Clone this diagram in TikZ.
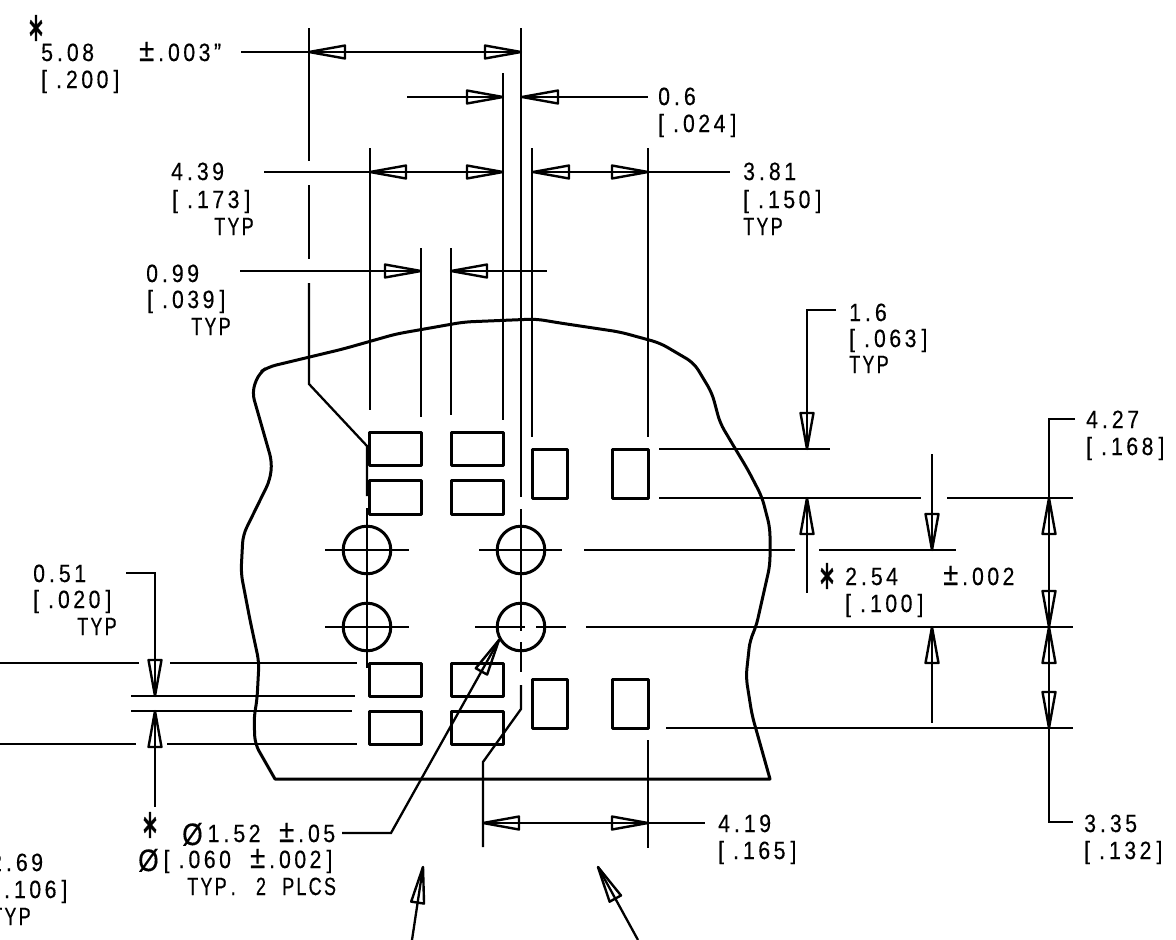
\documentclass[tikz,border=0pt]{standalone}
\usepackage{fontspec}
\setmainfont[FakeStretch=0.85,LetterSpace=14,FakeBold=0.4]{Liberation Sans}
\newfontfamily\typfont[FakeStretch=0.72,LetterSpace=9,FakeBold=0.4]{Liberation Sans}
\newfontfamily\starfont[FakeBold=1.5]{DejaVu Sans}

\newcommand{\dimhead}[3]{\draw[headline,shift={(#1,#2)},rotate=#3] (0,0) -- (-36,6.5) -- (-36,-6.5) -- cycle;}
\newcommand{\dt}{\kern4pt.\kern4pt}
\newcommand{\lb}{[\kern5pt}
\newcommand{\rb}{\kern5pt]}
\newcommand{\plm}{{\fontsize{32}{32}\selectfont ±}}
\newcommand{\dia}{{\fontsize{31}{31}\selectfont\raisebox{-3pt}{Ø}}\kern5pt}
\newcommand{\tol}{\scalebox{0.62}[1.2]{∗}}

\tikzset{
  thinline/.style={line width=2.3pt},
  headline/.style={line width=2.4pt,line join=round},
  padline/.style={line width=3pt,line join=round},
  boardline/.style={line width=3pt,line join=round},
  dimtext/.style={anchor=base west,inner sep=0pt,font=\fontsize{25}{27}\selectfont},
  typtext/.style={dimtext,font=\fontsize{25}{27}\selectfont\typfont},
  startext/.style={inner sep=0pt,font=\fontsize{34}{34}\selectfont\starfont}
}

\begin{document}
\begin{tikzpicture}[x=1pt,y=-1pt]
        \useasboundingbox (0,0) rectangle (1176,940);

        % board outline
        \draw[boardline,rounded corners=8pt] (268,367) -- (259,373) -- (252,392) -- (262,427) -- (272,462)
        -- (270,480) -- (243,535) -- (241,573) -- (250,620) -- (259,662) -- (257,700)
        -- (254,717) -- (255,744) [sharp corners] -- (275,779) -- (770,779)
        [rounded corners=8pt] -- (752,715) -- (746,677)
        -- (750,640) -- (756,627) -- (770,565) -- (770,528) -- (762,497) -- (748,470)
        -- (736,450) -- (720,423) -- (712,393) -- (694,363) -- (660,343) -- (620,332)
        -- (560,323) -- (536,319) -- (464,322) -- (396,334) -- (343,349) -- cycle;

        % pads
        \draw[padline] (369,432) rectangle (421,465);
        \draw[padline] (451,432) rectangle (503,465);
        \draw[padline] (369,480) rectangle (421,514);
        \draw[padline] (451,480) rectangle (503,514);
        \draw[padline] (369,663) rectangle (421,696);
        \draw[padline] (451,663) rectangle (503,696);
        \draw[padline] (369,711) rectangle (421,744);
        \draw[padline] (451,711) rectangle (503,744);
        \draw[padline] (532,449) rectangle (567,498);
        \draw[padline] (612,449) rectangle (648,498);
        \draw[padline] (532,679) rectangle (567,728);
        \draw[padline] (612,679) rectangle (648,728);

        % holes
        \draw[padline] (367,550) circle(23.8);
        \draw[padline] (367,627) circle(23.8);
        \draw[padline] (521,550) circle(23.8);
        \draw[padline] (521,627) circle(23.8);

        % centre lines
        \draw[thinline] (325,550) -- (409,550);
        \draw[thinline] (325,627) -- (409,627);
        \draw[thinline] (479,550) -- (562,550);
        \draw[thinline] (475,627) -- (525,627);
        \draw[thinline] (536,627) -- (566,627);
        \draw[thinline] (367,508) -- (367,668);
        \draw[thinline] (521,509) -- (521,631);
        \draw[thinline] (521,642) -- (521,672);

        % extension lines, top
        \draw[thinline] (309,28) -- (309,161);
        \draw[thinline] (309,185) -- (309,259);
        \draw[thinline] (309,283) -- (309,384) -- (367,446) -- (367,496);
        \draw[thinline] (521,28) -- (521,497);
        \draw[thinline] (503,73) -- (503,420);
        \draw[thinline] (370,148) -- (370,410);
        \draw[thinline] (532,148) -- (532,437);
        \draw[thinline] (648,148) -- (648,437);
        \draw[thinline] (421,248) -- (421,417);
        \draw[thinline] (451,248) -- (451,415);

        % extension lines, right
        \draw[thinline] (659,449) -- (830,449);
        \draw[thinline] (659,498) -- (921,498);
        \draw[thinline] (947,498) -- (1073,498);
        \draw[thinline] (584,550) -- (795,550);
        \draw[thinline] (819,550) -- (956,550);
        \draw[thinline] (586,627) -- (1073,627);
        \draw[thinline] (666,728) -- (1073,728);

        % extension lines, left
        \draw[thinline] (0,663) -- (139,663);
        \draw[thinline] (170,663) -- (357,663);
        \draw[thinline] (131,696) -- (355,696);
        \draw[thinline] (131,711) -- (352,711);
        \draw[thinline] (0,744) -- (136,744);
        \draw[thinline] (167,744) -- (357,744);

        % extension lines, bottom
        \draw[thinline] (521,685) -- (521,709) -- (483,762) -- (483,847);
        \draw[thinline] (648,740) -- (648,848);

        % dimension 5.08
        \draw[thinline] (241,52) -- (521,52);
        \dimhead{309}{52}{180}
        \dimhead{521}{52}{0}
        \node[startext] (star508) at (36,28) {\tol};
        \node[dimtext] (val508) at (41,61) {5\dt 08};
        \node[dimtext] (tol508) at (139,61) {\plm\dt 003"};
        \node[dimtext] (inch508) at (41,88) {\lb\dt 200\rb};

        % dimension 0.6
        \draw[thinline] (407,97) -- (503,97);
        \draw[thinline] (521,97) -- (648,97);
        \dimhead{503}{97}{0}
        \dimhead{522}{97}{180}
        \node[dimtext] (val06) at (658,105) {0\dt 6};
        \node[dimtext] (inch06) at (658,132) {\lb\dt 024\rb};

        % dimension 4.39
        \draw[thinline] (264,172) -- (503,172);
        \dimhead{370}{172}{180}
        \dimhead{503}{172}{0}
        \node[dimtext] (val439) at (171,180) {4\dt 39};
        \node[dimtext] (inch439) at (172,208) {\lb\dt 173\rb};
        \node[typtext] (typ439) at (214,235) {TYP};

        % dimension 3.81
        \draw[thinline] (532,172) -- (730,172);
        \dimhead{533}{172}{180}
        \dimhead{648}{172}{0}
        \node[dimtext] (val381) at (743,180) {3\dt 81};
        \node[dimtext] (inch381) at (743,208) {\lb\dt 150\rb};
        \node[typtext] (typ381) at (743,235) {TYP};

        % dimension 0.99
        \draw[thinline] (240,271) -- (421,271);
        \draw[thinline] (451,271) -- (547,271);
        \dimhead{421}{271}{0}
        \dimhead{451}{271}{180}
        \node[dimtext] (val099) at (146,282) {0\dt 99};
        \node[dimtext] (inch099) at (147,308) {\lb\dt 039\rb};
        \node[typtext] (typ099) at (191,335) {TYP};

        % dimension 1.6
        \draw[thinline] (836,310) -- (807,310) -- (807,449);
        \draw[thinline] (807,498) -- (807,593);
        \dimhead{807}{449}{270}
        \dimhead{807}{498}{90}
        \node[dimtext] (val16) at (849,321) {1\dt 6};
        \node[dimtext] (inch16) at (849,347) {\lb\dt 063\rb};
        \node[typtext] (typ16) at (849,373) {TYP};

        % dimension 2.54
        \draw[thinline] (932,454) -- (932,550);
        \draw[thinline] (932,627) -- (932,723);
        \dimhead{932}{550}{270}
        \dimhead{932}{627}{90}
        \node[startext] (star254) at (827,576) {\tol};
        \node[dimtext] (val254) at (845,585) {2\dt 54};
        \node[dimtext] (tol254) at (943,585) {\plm\dt 002};
        \node[dimtext] (inch254) at (845,612) {\lb\dt 100\rb};

        % dimensions 4.27 and 3.35
        \draw[thinline] (1075,419) -- (1049,419) -- (1049,822) -- (1073,822);
        \dimhead{1049}{498}{90}
        \dimhead{1049}{627}{270}
        \dimhead{1049}{627}{90}
        \dimhead{1049}{728}{270}
        \node[dimtext] (val427) at (1086,428) {4\dt 27};
        \node[dimtext] (inch427) at (1086,455) {\lb\dt 168\rb};
        \node[dimtext] (val335) at (1084,832) {3\dt 35};
        \node[dimtext] (inch335) at (1084,859) {\lb\dt 132\rb};

        % dimension 4.19
        \draw[thinline] (483,823) -- (705,823);
        \dimhead{483}{823}{180}
        \dimhead{648}{823}{0}
        \node[dimtext] (val419) at (718,832) {4\dt 19};
        \node[dimtext] (inch419) at (718,859) {\lb\dt 165\rb};

        % dimensions 0.51 and 2.69
        \draw[thinline] (126,573) -- (155,573) -- (155,696);
        \draw[thinline] (155,711) -- (155,807);
        \dimhead{155}{696}{270}
        \dimhead{155}{711}{90}
        \node[dimtext] (val051) at (33,582) {0\dt 51};
        \node[dimtext] (inch051) at (33,608) {\lb\dt 020\rb};
        \node[typtext] (typ051) at (77,635) {TYP};
        \node[dimtext] (val269) at (-10,871) {2\dt 69};
        \node[dimtext] (inch269) at (-11,898) {\lb\dt 106\rb};
        \node[typtext] (typ269) at (-9,925) {TYP};

        % hole diameter
        \draw[thinline] (342,833) -- (391,833) -- (499,640);
        \dimhead{499}{640}{60.8}
        \node[startext] (star152) at (150,825) {\tol};
        \node[dimtext] (val152) at (182,842) {\dia 1\dt 52};
        \node[dimtext] (tol152) at (279,842) {\plm\dt 05};
        \node[dimtext] (inch152) at (138,868) {\dia\lb\dt 060};
        \node[dimtext] (tol060) at (250,868) {\plm\dt 002\rb};
        \node[typtext] (typ152) at (187,895) {TYP\dt\hspace{9pt} 2\hspace{9pt} PLCS};

        % view arrows
        \draw[thinline] (412,940) -- (423,867);
        \dimhead{423}{867}{81.4}
        \draw[thinline] (638,940) -- (598,867);
        \dimhead{598}{867}{118.7}
      \end{tikzpicture}
\end{document}
